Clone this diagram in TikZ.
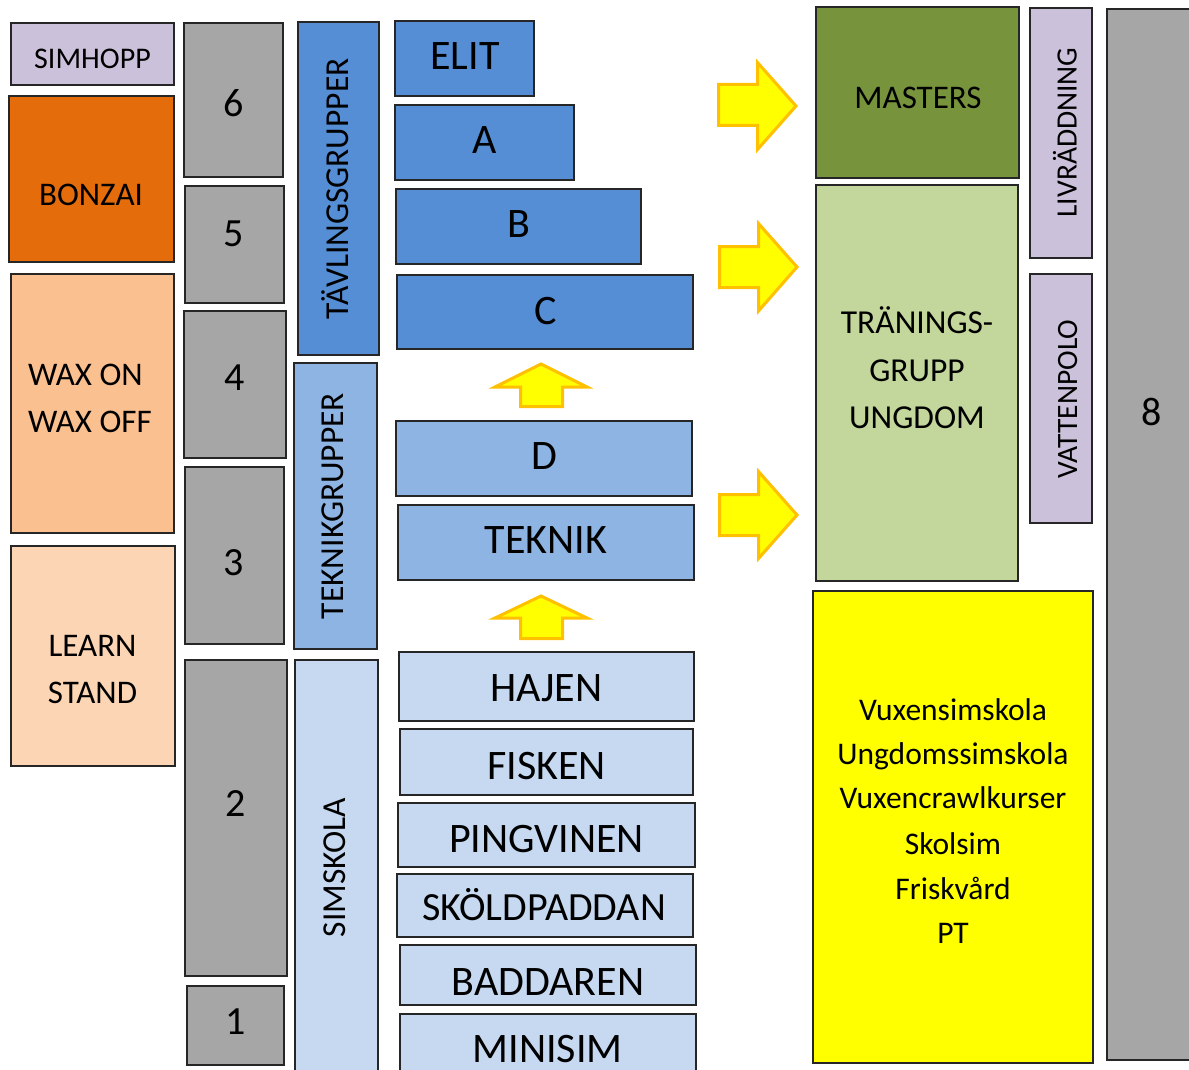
\documentclass[tikz,border=0pt]{standalone}
\usepackage{fontspec}
\setmainfont{Carlito}
\definecolor{dblue}{HTML}{558ED5}
\definecolor{mblue}{HTML}{8EB4E3}
\definecolor{lblue}{HTML}{C6D9F1}
\definecolor{grayb}{HTML}{A6A6A6}
\definecolor{orangeb}{HTML}{E46C0A}
\definecolor{peach}{HTML}{FAC090}
\definecolor{lpeach}{HTML}{FCD5B5}
\definecolor{lav}{HTML}{CCC1DA}
\definecolor{greenb}{HTML}{77933C}
\definecolor{lgreen}{HTML}{C3D69B}
\definecolor{yel}{HTML}{FFFF00}
\definecolor{arrowedge}{HTML}{FFC000}
\newcommand\fs[1]{\fontsize{#1}{#1}\selectfont}
\newcommand\bx[6]{\node[box,#6,minimum width={#4-#2},minimum height={#5-#3}] (#1) at ({(#2+#4)/2},{(#3+#5)/2}) {};}
\begin{document}
\begin{tikzpicture}[x=1pt,y=-1pt,
  box/.style={draw=black!85,line width=1.2pt,inner sep=0pt,outer sep=0pt,rectangle},
  lbl/.style={inner sep=0pt,outer sep=0pt,anchor=base,text=black},
  blockarrow/.style={fill=yel,draw=arrowedge,line width=3pt,line join=miter}]
\useasboundingbox (0,0) rectangle (1189,1070);
\clip (0,0) rectangle (1189,1070);
% left column
\bx{simhopp}{11}{23}{174}{85}{fill=lav}
\bx{bonzai}{9}{96}{174}{262}{fill=orangeb}
\bx{wax}{11}{274}{174}{533}{fill=peach}
\bx{learn}{11}{546}{175}{766}{fill=lpeach}
\node[lbl,font=\fs{30}] (tsimhopp) at (92.5,69) {SIMHOPP};
\node[lbl,font=\fs{33}] (tbonzai) at (91,205.5) {BONZAI};
\node[lbl,font=\fs{33},anchor=base west] (twax1) at (28,385) {WAX ON};
\node[lbl,font=\fs{33},anchor=base west] (twax2) at (28,432.5) {WAX OFF};
\node[lbl,font=\fs{33}] (tlearn1) at (92.5,656.5) {LEARN};
\node[lbl,font=\fs{33}] (tlearn2) at (92.5,703.5) {STAND};
% numbers
\bx{n6}{184}{23}{283}{177}{fill=grayb}
\bx{n5}{185}{186}{284}{303}{fill=grayb}
\bx{n4}{184}{311}{286}{458}{fill=grayb}
\bx{n3}{185}{467}{284}{644}{fill=grayb}
\bx{n2}{185}{660}{287}{976}{fill=grayb}
\bx{n1}{187}{986}{284}{1065}{fill=grayb}
\node[lbl,font=\fs{40}] (t6) at (234,116.5) {6};
\node[lbl,font=\fs{40}] (t5) at (234,246.5) {5};
\node[lbl,font=\fs{40}] (t4) at (234.5,390) {4};
\node[lbl,font=\fs{40}] (t3) at (234,575) {3};
\node[lbl,font=\fs{40}] (t2) at (235.5,816) {2};
\node[lbl,font=\fs{40}] (t1) at (235.5,1034) {1};
% vertical group labels
\bx{tavl}{298}{22}{379}{355}{fill=dblue}
\bx{tekg}{294}{363}{377}{649}{fill=mblue}
\bx{simsk}{295}{660}{378}{1085}{fill=lblue}
\node[lbl,font=\fs{33.5},rotate=90] (ttavl) at (348,189) {TÄVLINGSGRUPPER};
\node[lbl,font=\fs{33.5},rotate=90] (ttekg) at (343.5,506) {TEKNIKGRUPPER};
\node[lbl,font=\fs{33.5},rotate=90] (tsimsk) at (345.5,867.5) {SIMSKOLA};
% group boxes
\bx{elit}{395}{21}{534}{96}{fill=dblue}
\bx{ga}{395}{105}{574}{180}{fill=dblue}
\bx{gb}{396}{189}{641}{264}{fill=dblue}
\bx{gc}{397}{275}{693}{349}{fill=dblue}
\bx{gd}{396}{421}{692}{496}{fill=mblue}
\bx{teknik}{398}{505}{694}{580}{fill=mblue}
\bx{hajen}{399}{652}{694}{721}{fill=lblue}
\bx{fisken}{400}{729}{693}{795}{fill=lblue}
\bx{pingv}{398}{803}{695}{867}{fill=lblue}
\bx{skold}{397}{874}{693}{937}{fill=lblue}
\bx{badd}{400}{945}{696}{1005}{fill=lblue}
\bx{minisim}{400}{1014}{696}{1085}{fill=lblue}
\node[lbl,font=\fs{42}] (telit) at (465,70) {ELIT};
\node[lbl,font=\fs{42}] (ta) at (485,153.5) {A};
\node[lbl,font=\fs{42}] (tb) at (519,237.5) {B};
\node[lbl,font=\fs{42}] (tc) at (545.5,324) {C};
\node[lbl,font=\fs{42}] (td) at (544,469.5) {D};
\node[lbl,font=\fs{42}] (tteknik) at (546,553.5) {TEKNIK};
\node[lbl,font=\fs{42}] (thajen) at (546.5,701.5) {HAJEN};
\node[lbl,font=\fs{42}] (tfisken) at (546.5,779) {FISKEN};
\node[lbl,font=\fs{42}] (tpingv) at (546.5,852.5) {PINGVINEN};
\node[lbl,font=\fs{40}] (tskold) at (544,920.5) {SKÖLDPADDAN};
\node[lbl,font=\fs{42}] (tbadd) at (548,995) {BADDAREN};
\node[lbl,font=\fs{42}] (tminisim) at (547.5,1062) {MINISIM};
% block arrows
\draw[blockarrow] (520.5,406.5) -- (520.5,387) -- (495,387) -- (541,364) -- (587,387) -- (562.5,387) -- (562.5,406.5) -- cycle;
\draw[blockarrow] (520.5,638.5) -- (520.5,618) -- (495,618) -- (541,596) -- (587,618) -- (562.5,618) -- (562.5,638.5) -- cycle;
\draw[blockarrow] (718.5,84.5) -- (757.5,84.5) -- (757.5,62.5) -- (796,106) -- (757.5,149.5) -- (757.5,125.5) -- (718.5,125.5) -- cycle;
\draw[blockarrow] (719.5,246.5) -- (758.5,246.5) -- (758.5,223.5) -- (797,267) -- (758.5,311) -- (758.5,287.5) -- (719.5,287.5) -- cycle;
\draw[blockarrow] (719.5,494.5) -- (758.5,494.5) -- (758.5,471.5) -- (797,515) -- (758.5,558.5) -- (758.5,535.5) -- (719.5,535.5) -- cycle;
% right side
\bx{masters}{816}{7}{1019}{178}{fill=greenb}
\bx{tran}{816}{185}{1018}{581}{fill=lgreen}
\bx{livr}{1030}{8}{1092}{258}{fill=lav}
\bx{vatt}{1030}{274}{1092}{523}{fill=lav}
\bx{n8}{1107}{9}{1205}{1060}{fill=grayb}
\bx{vux}{813}{591}{1093}{1063}{fill=yel}
\node[lbl,font=\fs{33}] (tmasters) at (918,108.5) {MASTERS};
\node[lbl,font=\fs{33.5}] (ttran1) at (917,333.5) {TRÄNINGS-};
\node[lbl,font=\fs{33.5}] (ttran2) at (917,381) {GRUPP};
\node[lbl,font=\fs{33.5}] (ttran3) at (917,428.5) {UNGDOM};
\node[lbl,font=\fs{29.5},rotate=90] (tlivr) at (1076.5,132.5) {LIVRÄDDNING};
\node[lbl,font=\fs{29.5},rotate=90] (tvatt) at (1077,399) {VATTENPOLO};
\node[lbl,font=\fs{40}] (t8) at (1152,425.5) {8};
\node[lbl,font=\fs{31.5}] (tv1) at (953,720) {Vuxensimskola};
\node[lbl,font=\fs{31.5}] (tv2) at (953,764.5) {Ungdomssimskola};
\node[lbl,font=\fs{31.5}] (tv3) at (953,808.5) {Vuxencrawlkurser};
\node[lbl,font=\fs{31.5}] (tv4) at (953,854) {Skolsim};
\node[lbl,font=\fs{31.5}] (tv5) at (953,899) {Friskvård};
\node[lbl,font=\fs{31.5}] (tv6) at (953,943.5) {PT};
\end{tikzpicture}
\end{document}
